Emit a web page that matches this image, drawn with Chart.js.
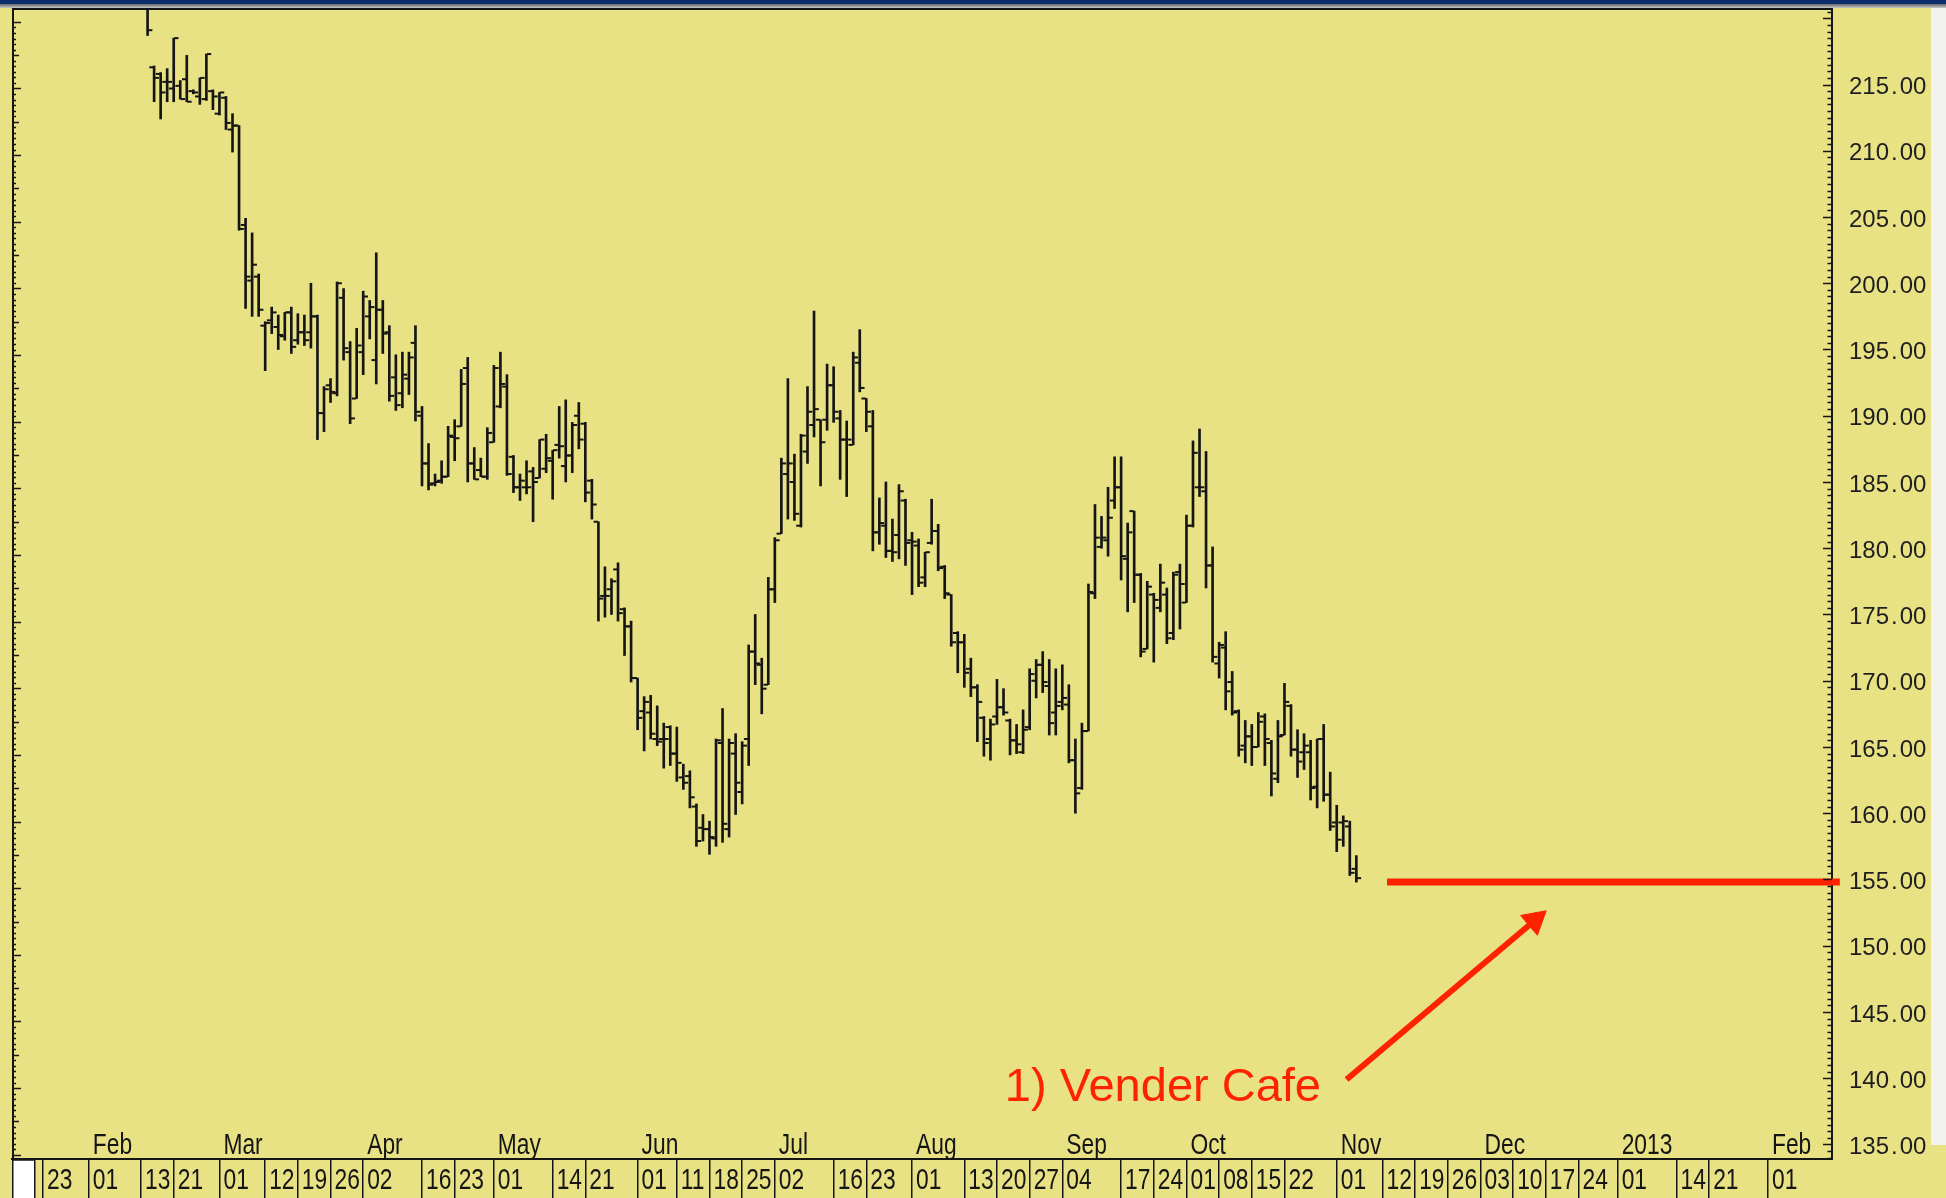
<!DOCTYPE html>
<html>
<head>
<meta charset="utf-8">
<title>Vender Cafe</title>
<script src="https://cdn.jsdelivr.net/npm/chart.js@4.4.1/dist/chart.umd.min.js"></script>
<style>
  html, body { margin: 0; padding: 0; background: #e8e284; overflow: hidden; }
  canvas { display: block; }
</style>
</head>
<body>
<canvas id="chart" width="1946" height="1198"></canvas>
<script>
// daily bars, one per trading slot; the first bar sits in slot 16 (14 Feb 2012)
var firstSlot = 16;

var opens = [
  221.0, 216.3, 215.8, 215.2, 214.7, 214.9, 215.4, 214.5, 214.1, 213.9,
  214.5, 212.8, 214.0, 211.6, 211.9, 204.4, 200.2, 200.5, 196.8, 197.2,
  196.7, 196.0, 197.8, 195.7, 196.3, 196.3, 197.5, 190.2, 192.3, 191.7,
  198.9, 194.8, 191.3, 194.8, 197.5, 194.2, 198.0, 196.3, 192.9, 191.7,
  192.8, 195.5, 190.0, 186.4, 184.9, 185.1, 185.4, 188.4, 189.2, 193.6,
  186.4, 185.9, 185.4, 188.0, 190.7, 192.2, 186.9, 184.6, 184.6, 185.8,
  185.3, 186.0, 186.6, 187.8, 186.2, 187.0, 190.0, 189.4, 185.1, 182.0,
  176.4, 176.9, 178.4, 175.4, 174.1, 170.2, 167.7, 167.6, 165.6, 165.6,
  166.5, 164.5, 162.7, 162.8, 160.5, 158.9, 158.8, 158.1, 165.3, 158.8,
  164.5, 161.6, 165.6, 172.2, 171.2, 169.7, 176.9, 181.1, 185.6, 185.0,
  181.7, 187.3, 189.3, 189.7, 189.7, 192.3, 189.8, 188.2, 187.8, 194.0,
  191.3, 189.2, 181.2, 181.7, 179.8, 181.0, 183.6, 180.6, 180.2, 177.8,
  180.4, 181.3, 178.6, 176.5, 173.6, 172.9, 170.9, 169.5, 167.2, 165.6,
  167.3, 168.0, 167.0, 165.5, 164.6, 166.5, 170.0, 171.2, 169.6, 167.6,
  168.4, 168.2, 164.0, 161.9, 166.2, 176.6, 180.1, 180.6, 183.6, 184.6,
  179.2, 182.8, 178.0, 172.4, 176.5, 175.5, 176.5, 173.6, 178.2, 175.9,
  181.7, 184.6, 184.3, 178.7, 171.3, 172.5, 169.9, 167.7, 165.1, 165.8,
  165.0, 167.3, 165.3, 162.6, 165.9, 168.1, 164.8, 164.6, 164.6, 162.0,
  165.6, 161.4, 159.3, 159.3, 159.0, 155.8
];
var highs = [
  221.5, 216.4, 215.9, 216.2, 218.5, 215.3, 217.2, 214.6, 215.5, 217.3,
  214.6, 214.4, 214.1, 212.8, 211.9, 204.9, 203.8, 200.7, 197.1, 198.2,
  197.6, 197.8, 198.2, 197.7, 197.6, 200.0, 197.6, 192.2, 192.8, 200.1,
  199.6, 195.6, 196.6, 199.4, 198.7, 202.3, 198.7, 196.8, 194.6, 194.8,
  194.8, 196.8, 190.7, 187.9, 185.6, 186.6, 189.2, 189.7, 193.5, 194.4,
  187.6, 186.8, 189.1, 193.8, 194.8, 193.1, 187.0, 185.6, 186.6, 186.1,
  188.2, 188.6, 187.4, 190.7, 191.2, 189.5, 191.0, 189.5, 185.2, 182.0,
  178.6, 177.7, 178.9, 175.5, 174.5, 170.2, 168.8, 168.9, 168.1, 166.8,
  166.6, 166.5, 163.7, 163.2, 160.7, 159.9, 159.4, 165.6, 167.9, 165.6,
  166.0, 165.4, 172.7, 175.0, 171.7, 177.8, 180.8, 186.8, 192.8, 187.1,
  188.6, 192.2, 197.9, 189.7, 193.9, 193.7, 190.4, 189.6, 194.8, 196.5,
  191.3, 190.4, 183.8, 185.0, 182.2, 184.8, 183.7, 181.2, 180.7, 179.7,
  183.7, 181.8, 178.7, 176.5, 173.7, 173.5, 171.7, 169.7, 167.3, 167.1,
  170.1, 169.4, 167.1, 166.7, 167.8, 170.9, 171.6, 172.2, 171.6, 170.9,
  171.2, 169.7, 165.6, 166.8, 177.3, 183.3, 182.4, 184.6, 186.9, 186.9,
  181.9, 182.8, 178.1, 177.5, 176.6, 178.8, 177.0, 178.2, 178.8, 182.5,
  188.1, 189.0, 187.3, 180.1, 172.9, 173.7, 170.7, 167.8, 167.0, 166.7,
  167.6, 167.5, 165.5, 167.0, 169.8, 168.2, 166.3, 166.0, 165.5, 165.6,
  166.7, 163.1, 160.6, 159.8, 159.4, 156.8
];
var lows = [
  218.7, 213.7, 212.4, 213.7, 213.7, 213.9, 213.7, 214.3, 213.5, 213.8,
  213.1, 212.7, 211.6, 209.9, 204.0, 198.1, 197.5, 197.5, 193.4, 196.2,
  195.0, 195.7, 194.7, 195.4, 195.3, 195.1, 188.2, 188.8, 191.0, 191.5,
  194.2, 189.4, 191.3, 193.1, 195.8, 192.4, 194.7, 191.1, 190.4, 190.6,
  191.6, 189.6, 184.7, 184.4, 184.7, 184.9, 185.4, 186.6, 189.2, 185.0,
  185.2, 185.4, 185.2, 188.0, 190.6, 185.5, 184.2, 183.6, 184.1, 182.0,
  185.3, 185.7, 183.7, 186.8, 185.0, 185.7, 187.5, 183.5, 182.2, 174.5,
  174.8, 175.0, 174.5, 171.9, 169.9, 166.3, 164.7, 165.6, 165.1, 163.4,
  163.6, 162.4, 161.8, 160.4, 157.5, 157.9, 156.9, 157.5, 157.8, 158.2,
  159.9, 160.7, 163.6, 169.7, 167.5, 169.7, 175.9, 181.1, 182.2, 182.1,
  181.6, 186.4, 188.4, 184.7, 188.9, 189.5, 185.2, 183.9, 187.8, 191.8,
  188.8, 179.8, 180.3, 179.3, 179.0, 179.2, 178.7, 176.5, 177.1, 177.1,
  180.3, 178.3, 176.2, 172.6, 170.6, 169.5, 168.8, 165.4, 164.3, 164.0,
  166.7, 167.4, 164.4, 164.5, 164.5, 166.3, 168.7, 169.1, 165.9, 165.9,
  167.8, 163.8, 160.0, 161.8, 166.2, 176.2, 180.0, 179.4, 183.0, 177.6,
  175.2, 175.9, 171.8, 172.4, 171.4, 175.2, 172.8, 173.1, 173.9, 175.9,
  181.6, 183.9, 177.0, 171.4, 170.2, 167.8, 167.4, 164.3, 163.8, 163.6,
  165.0, 163.6, 161.3, 162.3, 165.9, 164.3, 162.7, 163.3, 161.0, 160.4,
  160.9, 158.7, 157.1, 157.5, 155.3, 154.8
];
var closes = [
  219.1, 215.5, 214.4, 215.2, 218.5, 213.9, 213.7, 214.4, 215.5, 217.3,
  214.1, 214.4, 212.1, 211.9, 204.1, 200.5, 201.4, 198.0, 197.0, 197.8,
  196.1, 197.8, 195.2, 196.3, 195.7, 197.5, 190.2, 192.0, 191.8, 200.0,
  195.1, 189.8, 195.3, 199.0, 198.2, 198.0, 196.2, 191.5, 190.8, 193.1,
  194.4, 190.3, 186.4, 184.8, 185.0, 185.4, 188.5, 188.3, 192.4, 186.4,
  185.2, 185.4, 188.7, 193.6, 192.4, 185.6, 184.6, 185.1, 184.6, 185.0,
  188.2, 186.8, 187.4, 187.7, 187.0, 189.3, 188.2, 184.2, 183.3, 176.2,
  176.4, 177.5, 175.1, 174.1, 170.2, 167.2, 168.4, 166.0, 165.4, 165.6,
  164.5, 163.8, 162.3, 161.2, 157.9, 158.8, 158.2, 165.5, 159.2, 165.3,
  162.3, 165.1, 172.2, 171.3, 169.4, 176.9, 180.6, 186.4, 186.4, 182.6,
  188.5, 190.3, 190.5, 188.0, 192.3, 190.3, 188.2, 188.2, 194.4, 192.1,
  190.3, 181.2, 181.9, 179.8, 179.7, 184.3, 180.4, 180.5, 177.4, 179.7,
  181.3, 178.5, 176.6, 172.9, 172.9, 170.6, 169.5, 168.4, 165.3, 166.7,
  168.0, 167.6, 165.5, 165.2, 166.3, 170.5, 171.2, 169.9, 166.8, 168.1,
  168.7, 164.0, 161.5, 166.2, 176.7, 180.8, 180.8, 182.3, 184.6, 179.4,
  181.2, 178.0, 172.2, 177.1, 176.1, 177.4, 173.2, 178.0, 177.3, 181.7,
  187.2, 184.6, 178.7, 171.8, 172.7, 169.2, 167.6, 164.8, 165.8, 165.0,
  166.9, 165.6, 163.0, 165.8, 168.4, 164.8, 163.9, 165.1, 161.9, 165.6,
  161.4, 159.0, 158.0, 159.4, 155.5, 155.1
];

// date strip under the chart: slot index and day label
var daySlots = [0, 7, 15, 20, 27, 34, 39, 44, 49, 58, 63, 69, 78, 83, 91, 97, 102, 107, 112, 121, 126,
  133, 141, 146, 151, 156, 165, 170, 175, 180, 185, 190, 198, 205, 210, 215, 220, 225, 230, 235,
  241, 250, 255, 264];
var dayLabels = ['23', '01', '13', '21', '01', '12', '19', '26', '02', '16', '23', '01', '14', '21', '01', '11', '18', '25', '02', '16', '23',
  '01', '13', '20', '27', '04', '17', '24', '01', '08', '15', '22', '01', '12', '19', '26', '03', '10', '17', '24',
  '01', '14', '21', '01'];
var monthSlots = [7, 27, 49, 69, 91, 112, 133, 156, 175, 198, 220, 241, 264];
var monthLabels = ['Feb', 'Mar', 'Apr', 'May', 'Jun', 'Jul', 'Aug', 'Sep', 'Oct', 'Nov', 'Dec', '2013', 'Feb'];
var priceTicks = [135, 140, 145, 150, 155, 160, 165, 170, 175, 180, 185, 190, 195, 200, 205, 210, 215];

// the sell level and its note
var sellLevel = 154.8;
var sellFrom = 205.7, sellTo = 275;
var arrowFrom = { x: 199.5, y: 139.9 }, arrowTo = { x: 228.3, y: 151.9 };
var noteText = '1) Vender Cafe';
var noteAt = { x: 171.4, y: 138.3 };

var red = '#ff2200';
var ink = '#151515';
var sans = "'Liberation Sans', Arial, sans-serif";

var hiLo = [], openTicks = [], closeTicks = [];
for (var k = 0; k < highs.length; k++) {
  hiLo.push({ x: firstSlot + k, y: [lows[k], highs[k]] });
  openTicks.push({ x: firstSlot + k - 0.4, y: opens[k] });
  closeTicks.push({ x: firstSlot + k + 0.4, y: closes[k] });
}

function priceLabel(v) {
  var p = v.toFixed(2).split('.');
  return p[0] + '\u200A.\u200A' + p[1];
}

// squeezed text, the date font of the original is a narrow one
function narrowText(ctx, txt, px, py) {
  ctx.save();
  ctx.translate(px, py);
  ctx.scale(0.76, 1);
  ctx.fillText(txt, 0, 0);
  ctx.restore();
}

var frame = {
  id: 'frame',
  beforeDraw: function (chart) {
    var ctx = chart.ctx, w = chart.width;
    ctx.save();
    ctx.fillStyle = '#e8e284';
    ctx.fillRect(0, 0, w, chart.height);
    // pale strip down the right edge
    ctx.fillStyle = '#f2f2ee';
    ctx.fillRect(1931, 0, w - 1931, 1145);
    ctx.fillStyle = '#0c2c6c';
    ctx.fillRect(0, 0, w, 4);
    var g = ctx.createLinearGradient(0, 4, 0, 8);
    g.addColorStop(0, '#666666');
    g.addColorStop(1, '#c8c8c8');
    ctx.fillStyle = g;
    ctx.fillRect(0, 4, w, 4);
    ctx.restore();
  },
  afterDraw: function (chart) {
    var ctx = chart.ctx, a = chart.chartArea, x = chart.scales.x, y = chart.scales.y;
    ctx.save();
    ctx.strokeStyle = ink;
    ctx.lineWidth = 2;
    ctx.beginPath();
    ctx.moveTo(a.left + 1, a.bottom);
    ctx.lineTo(a.left + 1, a.top);
    ctx.lineTo(a.right, a.top);
    ctx.stroke();

    // right edge: half point ticks, longer every 5
    ctx.lineWidth = 1.5;
    ctx.beginPath();
    for (var v = 134; v <= 220.5; v += 0.5) {
      var py = Math.round(y.getPixelForValue(v)) + 0.5;
      var len = (v % 5 === 0) ? 9 : 4.5;
      ctx.moveTo(a.right, py);
      ctx.lineTo(a.right - len, py);
    }
    // left edge runs on its own grid: twelve steps per major
    var leftStep = 5.03 / 12;
    for (var n = 0; n < 220; n++) {
      var lv = 219.73 - n * leftStep;
      if (lv < y.min) break;
      var ly = Math.round(y.getPixelForValue(lv)) + 0.5;
      var ll = (n % 12 === 0) ? 9 : (n % 6 === 0 ? 7 : 4);
      ctx.moveTo(a.left, ly);
      ctx.lineTo(a.left + ll, ly);
    }
    ctx.stroke();

    ctx.fillStyle = ink;
    ctx.font = '30px ' + sans;
    ctx.textAlign = 'left';
    ctx.textBaseline = 'alphabetic';
    // month names sit just above the date strip
    for (var m = 0; m < monthSlots.length; m++) {
      narrowText(ctx, monthLabels[m], x.getPixelForValue(monthSlots[m]) + 4, a.bottom - 5);
    }
    // day numbers inside the strip, right of each separator
    for (var d = 0; d < daySlots.length; d++) {
      narrowText(ctx, dayLabels[d], x.getPixelForValue(daySlots[d]) + 4, a.bottom + 30);
    }

    // white box at the start of the strip
    ctx.fillStyle = '#ffffff';
    ctx.fillRect(a.left, a.bottom + 1, 22, chart.height - a.bottom);
    ctx.lineWidth = 1.5;
    ctx.strokeRect(a.left + 0.75, a.bottom + 1, 22, chart.height - a.bottom);

    ctx.fillStyle = red;
    ctx.font = '47px ' + sans;
    ctx.textAlign = 'center';
    ctx.fillText(noteText, x.getPixelForValue(noteAt.x), y.getPixelForValue(noteAt.y));
    ctx.restore();
  }
};

new Chart(document.getElementById('chart'), {
  type: 'bar',
  data: {
    datasets: [
      {
        type: 'bar',
        data: hiLo,
        backgroundColor: ink,
        borderWidth: 0,
        barThickness: 2,
        grouped: false
      },
      {
        type: 'scatter',
        data: openTicks,
        pointStyle: 'line',
        pointRadius: 2.2,
        pointBorderWidth: 2,
        pointBorderColor: ink,
        pointBackgroundColor: ink
      },
      {
        type: 'scatter',
        data: closeTicks,
        pointStyle: 'line',
        pointRadius: 2.2,
        pointBorderWidth: 2,
        pointBorderColor: ink,
        pointBackgroundColor: ink
      },
      {
        type: 'line',
        data: [{ x: sellFrom, y: sellLevel }, { x: sellTo, y: sellLevel }],
        borderColor: red,
        borderWidth: 7,
        pointRadius: 0,
        showLine: true,
        clip: { left: 0, top: 0, right: 10, bottom: 0 }
      },
      {
        type: 'line',
        data: [arrowFrom, arrowTo],
        borderColor: red,
        borderWidth: 6,
        showLine: true,
        pointStyle: 'triangle',
        pointRadius: [0, 15],
        pointRotation: [0, 49.8],
        pointBackgroundColor: red,
        pointBorderColor: red,
        pointBorderWidth: 1
      }
    ]
  },
  options: {
    responsive: false,
    devicePixelRatio: 1,
    animation: false,
    events: [],
    layout: { autoPadding: false, padding: { left: 12, top: 9, right: 0, bottom: 0 } },
    plugins: { legend: { display: false }, tooltip: { enabled: false } },
    scales: {
      x: {
        type: 'linear',
        min: -4.75,
        max: 273.8,
        offset: false,
        afterBuildTicks: function (s) { s.ticks = daySlots.map(function (v) { return { value: v }; }); },
        afterFit: function (s) { s.height = 39; s.paddingLeft = 0; s.paddingRight = 0; },
        grid: { display: true, drawOnChartArea: false, drawTicks: true, tickLength: 39, color: ink, lineWidth: 1.5, offset: false },
        border: { display: true, color: ink, width: 2 },
        ticks: { display: false, autoSkip: false, maxRotation: 0 }
      },
      y: {
        type: 'linear',
        position: 'right',
        min: 133.9,
        max: 220.7,
        afterBuildTicks: function (s) { s.ticks = priceTicks.map(function (v) { return { value: v }; }); },
        afterFit: function (s) { s.width = 114; s.paddingTop = 0; s.paddingBottom = 0; },
        grid: { display: false, drawTicks: false },
        border: { display: true, color: ink, width: 2 },
        ticks: {
          padding: 17,
          labelOffset: 3,
          color: '#1e1e1e',
          font: { family: sans, size: 24 },
          callback: function (v) { return priceLabel(v); }
        }
      }
    }
  },
  plugins: [frame]
});
</script>
</body>
</html>
